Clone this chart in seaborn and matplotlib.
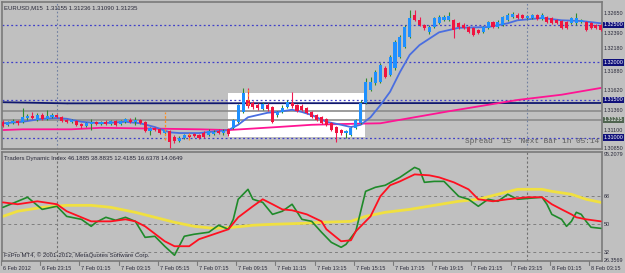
import numpy as np
import pandas as pd
import matplotlib
matplotlib.use("Agg")
import matplotlib.pyplot as plt
import matplotlib.transforms as mtransforms
import seaborn as sns

# --- EURUSD M15 candles (bar 0 = 6 Feb 21:15) ---
open_ = [1.3121,1.3117,1.3119,1.3122,1.3121,1.3126,1.3129,1.3123,1.3130,1.3125,
         1.3127,1.3130,1.3127,1.3123,1.3121,1.3122,1.3118,1.3115,1.3118,1.3121,
         1.3118,1.3121,1.3118,1.3122,1.3118,1.3121,1.3123,1.3121,1.3123,1.3121,
         1.3109,1.3113,1.3111,1.3106,1.3109,1.3101,1.3095,1.3100,1.3103,1.3105,
         1.3103,1.3106,1.3103,1.3105,1.3109,1.3106,1.3111,1.3113,1.3121,1.3134,
         1.3150,1.3146,1.3143,1.3138,1.3143,1.3141,1.3130,1.3134,1.3141,1.3146,
         1.3143,1.3142,1.3139,1.3134,1.3130,1.3127,1.3125,1.3119,1.3114,1.3110,
         1.3106,1.3103,1.3113,1.3119,1.3146,1.3163,1.3173,1.3174,1.3193,1.3183,
         1.3193,1.3207,1.3220,1.3234,1.3263,1.3256,1.3250,1.3240,1.3247,1.3252,
         1.3256,1.3256,1.3256,1.3252,1.3250,1.3247,1.3246,1.3243,1.3240,1.3246,
         1.3254,1.3247,1.3250,1.3256,1.3260,1.3263,1.3263,1.3259,1.3259,1.3263,
         1.3258,1.3260,1.3259,1.3256,1.3255,1.3254,1.3252,1.3252,1.3254,1.3254,
         1.3252,1.3250,1.3250]
high = [1.3123,1.3122,1.3125,1.3123,1.3139,1.3131,1.3134,1.3133,1.3133,1.3137,
        1.3133,1.3131,1.3129,1.3125,1.3125,1.3123,1.3119,1.3121,1.3125,1.3122,
        1.3122,1.3123,1.3123,1.3123,1.3123,1.3126,1.3126,1.3127,1.3125,1.3122,
        1.3114,1.3114,1.3113,1.3111,1.3110,1.3103,1.3102,1.3105,1.3106,1.3106,
        1.3105,1.3109,1.3111,1.3110,1.3111,1.3111,1.3113,1.3125,1.3145,1.3166,
        1.3166,1.3149,1.3146,1.3147,1.3146,1.3142,1.3135,1.3143,1.3150,1.3161,
        1.3145,1.3145,1.3141,1.3135,1.3131,1.3129,1.3126,1.3121,1.3115,1.3111,
        1.3110,1.3114,1.3125,1.3150,1.3179,1.3181,1.3190,1.3199,1.3195,1.3210,
        1.3230,1.3236,1.3250,1.3270,1.3270,1.3260,1.3251,1.3250,1.3260,1.3263,
        1.3263,1.3267,1.3258,1.3254,1.3252,1.3248,1.3247,1.3244,1.3248,1.3255,
        1.3255,1.3256,1.3262,1.3266,1.3267,1.3266,1.3264,1.3263,1.3264,1.3264,
        1.3266,1.3262,1.3260,1.3258,1.3256,1.3255,1.3260,1.3266,1.3258,1.3255,
        1.3254,1.3251,1.3251]
low = [1.3114,1.3115,1.3118,1.3117,1.3119,1.3123,1.3125,1.3122,1.3123,1.3123,
       1.3126,1.3126,1.3121,1.3119,1.3119,1.3115,1.3113,1.3114,1.3110,1.3117,
       1.3117,1.3117,1.3117,1.3115,1.3117,1.3119,1.3119,1.3117,1.3118,1.3107,
       1.3103,1.3109,1.3105,1.3105,1.3086,1.3093,1.3094,1.3098,1.3100,1.3101,
       1.3098,1.3100,1.3102,1.3103,1.3105,1.3103,1.3102,1.3111,1.3119,1.3133,
       1.3139,1.3138,1.3137,1.3137,1.3135,1.3119,1.3127,1.3133,1.3139,1.3139,
       1.3134,1.3135,1.3131,1.3126,1.3122,1.3118,1.3115,1.3109,1.3094,1.3103,
       1.3100,1.3102,1.3111,1.3118,1.3145,1.3162,1.3170,1.3173,1.3179,1.3182,
       1.3190,1.3206,1.3219,1.3232,1.3255,1.3248,1.3243,1.3238,1.3246,1.3251,
       1.3255,1.3255,1.3232,1.3244,1.3244,1.3239,1.3235,1.3238,1.3239,1.3244,
       1.3246,1.3246,1.3248,1.3255,1.3259,1.3258,1.3258,1.3258,1.3258,1.3256,
       1.3256,1.3252,1.3251,1.3251,1.3244,1.3244,1.3251,1.3250,1.3252,1.3242,
       1.3244,1.3244,1.3242]
close = [1.3115,1.3121,1.3122,1.3119,1.3127,1.3129,1.3126,1.3130,1.3125,1.3129,
         1.3130,1.3127,1.3122,1.3121,1.3123,1.3117,1.3115,1.3119,1.3121,1.3118,
         1.3121,1.3118,1.3122,1.3117,1.3122,1.3125,1.3121,1.3123,1.3119,1.3109,
         1.3113,1.3110,1.3106,1.3110,1.3094,1.3095,1.3100,1.3103,1.3101,1.3102,
         1.3100,1.3101,1.3109,1.3107,1.3106,1.3109,1.3105,1.3123,1.3143,1.3159,
         1.3142,1.3141,1.3139,1.3145,1.3138,1.3121,1.3134,1.3139,1.3147,1.3142,
         1.3135,1.3137,1.3133,1.3127,1.3123,1.3119,1.3117,1.3110,1.3106,1.3106,
         1.3109,1.3113,1.3123,1.3146,1.3174,1.3174,1.3187,1.3197,1.3181,1.3207,
         1.3227,1.3234,1.3247,1.3259,1.3256,1.3250,1.3246,1.3247,1.3259,1.3260,
         1.3260,1.3262,1.3243,1.3247,1.3246,1.3240,1.3236,1.3239,1.3247,1.3254,
         1.3247,1.3254,1.3260,1.3263,1.3264,1.3259,1.3259,1.3262,1.3263,1.3258,
         1.3263,1.3254,1.3252,1.3252,1.3246,1.3246,1.3259,1.3259,1.3256,1.3243,
         1.3246,1.3246,1.3243]

# moving averages on the price chart
fast_bar = [0,4,8,11,13,16,20,25,28,31,34,36,40,46,48,50,54,56,59,61,
            63,66,69,71,73,75,77,79,81,83,85,89,93,99,103,105,110,114,118,122]
fast_ma = [1.3119,1.3121,1.3125,1.3126,1.3125,1.3121,1.3119,1.3121,1.3119,1.3114,
           1.3107,1.3106,1.3106,1.3110,1.3117,1.3127,1.3133,1.3134,1.3137,1.3134,
           1.3130,1.3121,1.3117,1.3114,1.3117,1.3127,1.3143,1.3161,1.3187,1.3210,
           1.3223,1.3240,1.3246,1.3247,1.3252,1.3256,1.3259,1.3256,1.3255,1.3252]
slow_bar = [0,4,14,20,40,46,56,63,69,77,91,105,114,122]
slow_ma = [1.3110,1.3111,1.3111,1.3113,1.3111,1.3110,1.3114,1.3117,1.3118,1.3119,
           1.3135,1.3150,1.3157,1.3166]
navy_bar = [0,13,13,122]
navy_lvl = [1.3147,1.3147,1.3144,1.3146]

round_levels = [1.3250, 1.3200, 1.3150, 1.3100]
gray_levels = [1.3135, 1.31235]
box_bars = [45.9, 73.9]
box_prices = [1.3101, 1.3159]
mark_bar = [33, 38, 50]
mark_top = [1.3134, 1.3107, 1.3166]
mark_bot = [1.3097, 1.3097, 1.3143]

price_labels = ["1.32650", "1.32390", "1.32180", "1.31880", "1.31620", "1.31360", "1.31100", "1.30850"]
boxed_labels = ["1.32500", "1.32000", "1.31500", "1.31000"]

# --- Traders Dynamic Index ---
green_bar = [0,5,8,11,13,16,18,19,21,23,25,27,29,31,33,35,37,39,42,44,46,47,48,50,51,53,55,57,59,61,
             63,65,67,69,70,72,74,76,78,81,84,85,86,88,90,93,95,97,99,101,103,105,110,111,112,114,115,
             116,117,118,119,120,122]
green = [60.9,67.4,59.6,61.6,55.1,53.2,48.7,51.3,54.5,52.6,54.5,51.9,41.6,42.3,35.9,30.1,42.3,43.6,44.9,49.4,
         46.8,53.2,66.1,72.5,66.1,64.1,56.4,58.4,62.9,53.2,51.9,44.9,38.4,35.2,37.1,45.5,71.2,73.8,75.1,80.2,
         86.6,85.3,77.0,77.6,77.6,68.0,66.1,61.6,66.1,64.8,69.3,66.1,67.4,62.9,56.4,53.2,48.7,51.9,57.7,56.4,
         51.9,48.1,47.4]
red_bar = [0,3,7,11,13,18,22,25,27,29,33,35,38,40,43,46,48,51,53,55,57,59,62,65,66,69,71,72,75,77,
           79,81,84,87,89,92,95,97,100,103,107,110,112,114,116,117,119,122]
red = [64.1,62.9,64.8,62.9,58.4,51.9,51.9,53.2,51.9,48.7,39.1,35.9,35.9,40.4,43.6,46.8,54.5,61.6,66.1,62.9,
       59.6,59.0,56.4,51.9,46.8,39.1,39.7,45.5,55.1,68.0,75.1,77.6,82.1,81.5,80.2,77.0,72.5,66.1,64.8,66.1,
       67.4,67.4,62.9,59.6,56.4,54.5,53.2,51.9]
yellow_bar = [0,3,8,13,18,22,27,31,35,39,43,47,51,55,61,65,71,74,78,83,88,93,97,101,105,110,112,116,119,122]
yellow = [55.1,58.4,60.9,62.2,62.2,60.9,57.7,54.5,51.3,48.7,47.4,48.1,49.4,50.0,50.6,51.3,51.9,55.1,57.7,59.6,
          62.2,64.8,66.1,69.3,72.5,72.5,71.2,69.3,66.1,64.1]
tdi_levels = [68, 50, 32]
tdi_labels = [(95.2, "95.2079"), (68, "68"), (50, "50"), (32, "32"), (27.0, "26.3569")]

time_ticks = list(range(0, 123, 8))
time_labels = ["6 Feb 2012", "6 Feb 23:15", "7 Feb 01:15", "7 Feb 03:15", "7 Feb 05:15", "7 Feb 07:15",
               "7 Feb 09:15", "7 Feb 11:15", "7 Feb 13:15", "7 Feb 15:15", "7 Feb 17:15", "7 Feb 19:15",
               "7 Feb 21:15", "7 Feb 23:15", "8 Feb 01:15", "8 Feb 03:15"]
day_breaks = [11, 107]

BG = '#c0c0c0'
FRAME = '#7a7a7a'
TXT = '#2a2a3a'
FS = 4.3
FS_R = 3.9

sns.set_style("white")
plt.rcParams['font.family'] = ['Liberation Sans', 'DejaVu Sans']

W, H = 625, 273
fig = plt.figure(figsize=(W / 100, H / 100), dpi=100)
fig.patch.set_facecolor(BG)

def px_axes(x0, y0, x1, y1):
    return fig.add_axes([x0 / W, 1 - y1 / H, (x1 - x0) / W, (y1 - y0) / H])

ax = px_axes(2, 2, 602, 149)
ax2 = px_axes(2, 152, 602, 261)
XL = (-0.2, 122.24)

for a in (ax, ax2):
    a.set_facecolor(BG)
    a.set_xlim(*XL)
    a.set_xticks([])
    a.set_yticks([])
    for s in a.spines.values():
        s.set_color(FRAME)
        s.set_linewidth(1.2)

ax.set_ylim(1.30848, 1.32803)
ax2.set_ylim(26.4, 96.5)

df = pd.DataFrame({'bar': np.arange(len(close)), 'open': open_, 'high': high,
                   'low': low, 'close': close})
up = df['close'] >= df['open']

# white rectangle object
ax.fill_between(box_bars, box_prices[0], box_prices[1], color='white', zorder=0.5, lw=0)

# horizontal levels
for lv in round_levels:
    ax.axhline(lv, color='#4040c8', ls=(0, (1.5, 2)), lw=0.9, zorder=1)
for lv in gray_levels:
    ax.axhline(lv, color='#8c8c8c', lw=1.2, zorder=1)
for b in day_breaks:
    ax.axvline(b, color='#7080a0', ls=(0, (1.5, 2)), lw=0.8, zorder=1)
    ax2.axvline(b, color='#707070', ls=(0, (2, 2)), lw=0.8, zorder=1)

sns.lineplot(x=navy_bar, y=navy_lvl, ax=ax, color='#101870', lw=1.3, sort=False, zorder=2)
sns.lineplot(x=slow_bar, y=slow_ma, ax=ax, color='#ff1493', lw=1.3, zorder=2)
sns.lineplot(x=fast_bar, y=fast_ma, ax=ax, color='#4a6ee0', lw=1.3, zorder=2)

# candles
ax.vlines(df.loc[up, 'bar'], df.loc[up, 'low'], df.loc[up, 'high'], color='#2e8b2e', lw=0.8, zorder=3)
ax.vlines(df.loc[~up, 'bar'], df.loc[~up, 'low'], df.loc[~up, 'high'], color='#f01850', lw=0.8, zorder=3)
body_lo = np.minimum(df['open'], df['close'])
body_h = np.maximum(np.abs(df['close'] - df['open']), 0.00004)
ax.bar(df.loc[up, 'bar'], body_h[up], bottom=body_lo[up], width=0.62, color='#1e90ff', lw=0, zorder=4)
ax.bar(df.loc[~up, 'bar'], body_h[~up], bottom=body_lo[~up], width=0.62, color='#f01440', lw=0, zorder=4)

ax.vlines(mark_bar, mark_bot, mark_top, color='#ff8c1a', ls=(0, (2, 1.5)), lw=0.9, zorder=5)

# right price scale
tr = mtransforms.blended_transform_factory(ax.transAxes, ax.transData)
for lab in price_labels:
    ax.text(1.003, float(lab), lab, transform=tr, fontsize=FS_R, color=TXT, va='center', ha='left')
for lab in boxed_labels:
    ax.text(1.003, float(lab), lab, transform=tr, fontsize=FS_R, color='white', va='center', ha='left',
            bbox=dict(boxstyle='square,pad=0.12', fc='#10107a', ec='none'))
ax.text(1.003, 1.31235, "1.31235", transform=tr, fontsize=FS_R, color='white', va='center', ha='left',
        bbox=dict(boxstyle='square,pad=0.12', fc='#506450', ec='none'))

ax.text(0.004, 0.975, "EURUSD,M15  1.31155 1.31236 1.31090 1.31235", transform=ax.transAxes,
        fontsize=FS, color=TXT, va='top', ha='left')
ax.text(0.996, 0.03, "Spread  15  Next Bar in 05:14", transform=ax.transAxes,
        fontsize=5.6, color='#5e5e5e', va='bottom', ha='right', family='Liberation Mono')

# TDI panel
for lv in tdi_levels:
    ax2.axhline(lv, color='#808080', ls=(0, (3, 3)), lw=0.7, zorder=1)
sns.lineplot(x=yellow_bar, y=yellow, ax=ax2, color='#f0e040', lw=2.0, zorder=2)
sns.lineplot(x=green_bar, y=green, ax=ax2, color='#1f8a2a', lw=1.2, zorder=3)
sns.lineplot(x=red_bar, y=red, ax=ax2, color='#ff1020', lw=1.3, zorder=4)

tr2 = mtransforms.blended_transform_factory(ax2.transAxes, ax2.transData)
for v, lab in tdi_labels:
    ax2.text(1.003, v, lab, transform=tr2, fontsize=FS_R, color=TXT, va='center', ha='left')
ax2.text(0.004, 0.96, "Traders Dynamic Index 46.1885 38.8835 12.4185 16.6378 14.0649",
         transform=ax2.transAxes, fontsize=FS, color=TXT, va='top', ha='left')
ax2.text(0.004, 0.03, "FxPro MT4, \u00a9 2001-2012, MetaQuotes Software Corp.",
         transform=ax2.transAxes, fontsize=FS, color=TXT, va='bottom', ha='left')

# time axis
trx = mtransforms.blended_transform_factory(ax2.transData, ax2.transAxes)
for t, lab in zip(time_ticks, time_labels):
    ax2.plot([t - 0.4, t - 0.4], [0, -0.04], transform=trx, color=FRAME, lw=0.8, clip_on=False)
    ax2.text(t, -0.05, lab, transform=trx, fontsize=4.0, color=TXT, va='top', ha='left')

for a in (ax, ax2):
    if a.get_legend():
        a.get_legend().remove()
    a.set_xlabel('')
    a.set_ylabel('')

fig.savefig('out.png', dpi=100, facecolor=BG)
